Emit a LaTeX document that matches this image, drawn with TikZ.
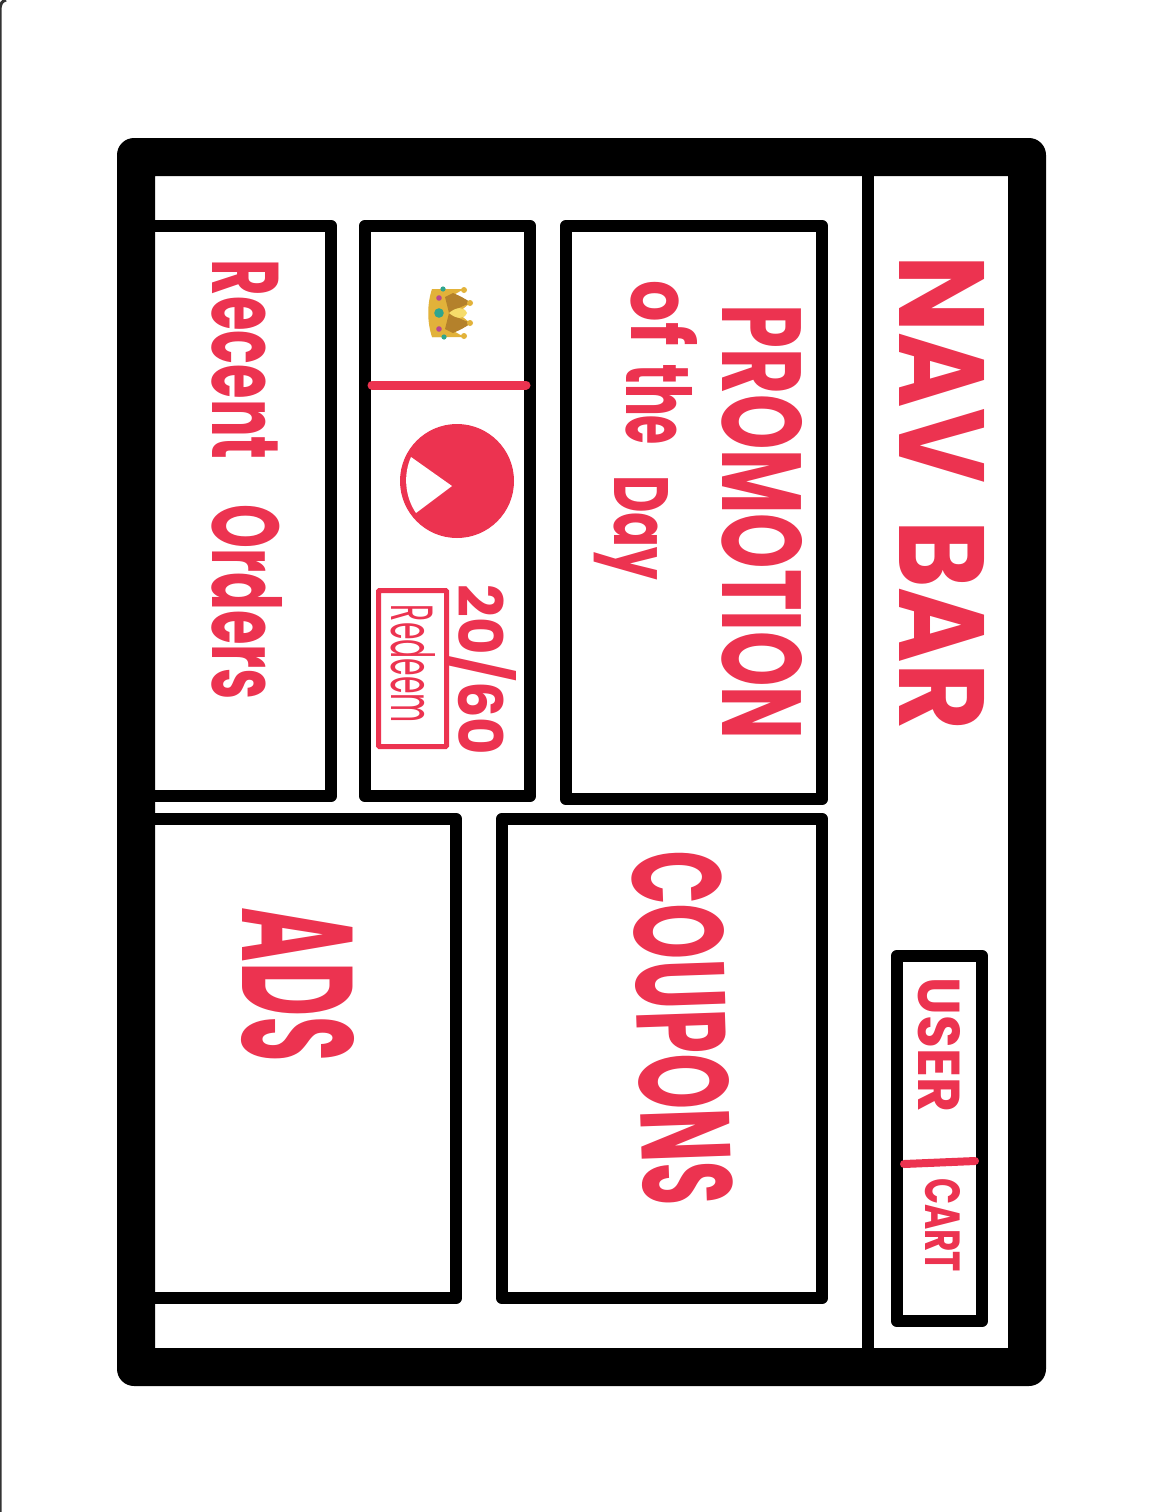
\documentclass[tikz,border=0pt]{standalone}
\usepackage{fontspec}
\setmainfont{Poppins}
\definecolor{cRed}{HTML}{EC3350}
\definecolor{cGold}{HTML}{E2B23A}
\definecolor{cDeep}{HTML}{B4812B}
\definecolor{cPale}{HTML}{F6DC6A}
\definecolor{cTeal}{HTML}{2FA58E}
\definecolor{cPink}{HTML}{B9488F}
\newcommand{\hand}[3]{\resizebox{#1pt}{#2pt}{\bfseries #3}}

\begin{document}
\begin{tikzpicture}[x=1pt, y=-1pt,
  panel/.style={draw=black, line width=12.5pt, line join=round},
  redline/.style={draw=cRed, line width=#1, line cap=round},
  lab/.style={text=cRed, inner sep=0pt, rotate=#1},
  lab/.default=-90]
  \useasboundingbox (0,0) rectangle (1158,1512);
  \fill[white] (0,0) rectangle (1158,1512);
  \draw[black!80, line width=3pt] (0,1512) -- (0,10) .. controls (0,4) and (2,1) .. (6,0);
  % boxes open on the left run under the frame
  \foreach \xa/\ya/\xb/\yb in {130/226/331/796, 365/226/530/796, 566/226/822/799, 130/819/456/1298, 502/819/822/1298, 897/956/982/1321}
    \draw[panel] (\xa,\ya) rectangle (\xb,\yb);
  \draw[draw=black, line width=12pt] (868,176) -- (868,1348);
  \fill[black, even odd rule, rounded corners=17pt] (117,138) rectangle (1046,1386) [sharp corners] (155,176) rectangle (1008,1348);
  % crown
  \fill[cGold] (432,289) -- (464,289) -- (450,297) -- (470,303) -- (458,313) -- (470,323) -- (450,329) -- (464,337) -- (432,337) -- cycle;
  \fill[cDeep] (445,297) -- (453,293) .. controls (460,296) and (466,299) .. (471,303) .. controls (462,306) and (455,310) .. (449,313) -- cycle;
  \fill[cDeep] (445,329) -- (453,333) .. controls (460,330) and (466,327) .. (471,323) .. controls (462,320) and (455,316) .. (449,313) -- cycle;
  \fill[cPale] (449,313) .. controls (456,307) and (464,306) .. (467,313) .. controls (464,320) and (456,319) .. (449,313) -- cycle;
  \foreach \x/\y in {464/290, 470/303, 470/323, 464/336} \fill[cGold] (\x,\y) circle[radius=3];
  \fill[cGold] (432,289) .. controls (427,304) and (427,322) .. (432,337) -- (445,337) .. controls (439,322) and (439,304) .. (445,289) -- cycle;
  \foreach \x/\y/\col/\r in {443/289/cTeal/2.6, 439/298/cPink/2.8, 439/313/cTeal/4.8, 439/329/cPink/2.8, 444/337/cTeal/2.6}
    \fill[\col] (\x,\y) circle[radius=\r];
  % pie
  \fill[cRed] (457,481) circle[radius=57];
  \fill[white] (452,486) -- (411,457) .. controls (403,475) and (405,497) .. (416,513) -- cycle;
  \draw[redline=9pt] (372,385) -- (526,385);
  \draw[redline=8pt] (904,1164) -- (975,1161);
  \draw[draw=cRed, line width=5pt, rounded corners=1pt] (378.5,590.5) rectangle (446.5,746.5);
  % labels
  \node[lab] (navbar) at (942,493) {\hand{474}{85}{NAV\hspace{.15em} BAR}};
  \node[lab] (recent) at (247,480) {\hand{440}{70}{Recent\hspace{.6em} Orders}};
  \node[lab] (promo) at (762,522) {\hand{435}{80}{PROMOTION}};
  \node[lab] (dayof) at (664,313) {\hand{65}{66}{of}};
  \node[lab] (daythe) at (659,405) {\hand{80}{66}{the}};
  \node[lab] (dayname) at (631,528) {\hand{105}{54}{Day}};
  \node[lab] (ads) at (298,985) {\hand{154}{112}{ADS}};
  \node[lab=-88] (coupons) at (682,1028) {\hand{355}{90}{COUPONS}};
  \node[lab] (score) at (482,670) {\hand{170}{58}{20/60}};
  \node[lab] (redeem) at (413,664) {\hand{118}{44}{\mdseries Redeem}};
  \node[lab] (user) at (939,1045) {\hand{134}{42}{USER}};
  \node[lab] (cart) at (943,1225) {\hand{94}{35}{CART}};
\end{tikzpicture}
\end{document}
